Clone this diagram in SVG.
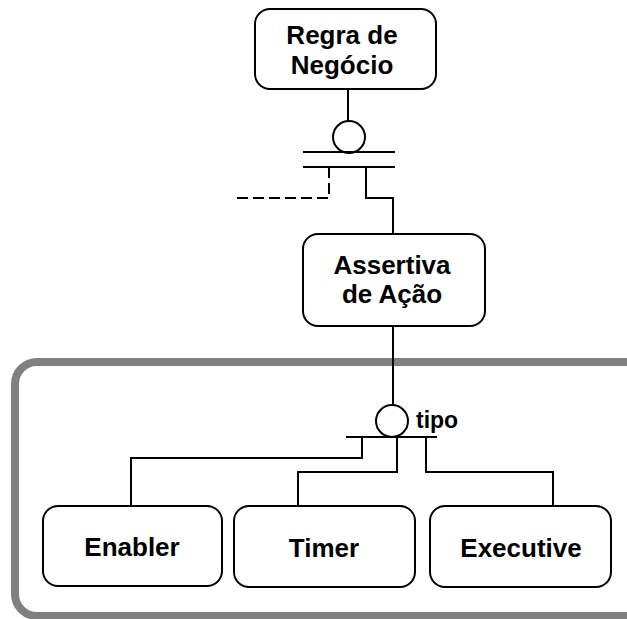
<svg xmlns="http://www.w3.org/2000/svg" width="627" height="619" viewBox="0 0 627 619">
  <style>
    .box { fill: #ffffff; stroke: #000000; stroke-width: 2; }
    .label { font-family: "Liberation Sans", Arial, sans-serif; font-weight: bold; font-size: 26px; fill: #000000; text-anchor: middle; }
    .small { font-family: "Liberation Sans", Arial, sans-serif; font-weight: bold; font-size: 23px; fill: #000000; }
    .line { fill: none; stroke: #000000; stroke-width: 2; }
    .dash { fill: none; stroke: #000000; stroke-width: 2; stroke-dasharray: 11 5; }
    .frame { fill: none; stroke: #808080; stroke-width: 8; }
  </style>
  <rect width="627" height="619" fill="#ffffff"/>

  <!-- grey grouping frame around the subtype cluster -->
  <rect class="frame" x="15" y="362" width="640" height="254" rx="22" ry="22"/>

  <g id="connectors">
    <!-- Regra de Negócio to relationship -->
    <line class="line" x1="348" y1="89" x2="348" y2="121"/>
    <circle class="line" cx="349" cy="137" r="16"/>
    <line class="line" x1="303" y1="152" x2="395" y2="152"/>
    <line class="line" x1="303" y1="167" x2="395" y2="167"/>
    <polyline class="dash" points="329,167 329,198 237,198"/>
    <polyline class="line" points="366,167 366,198 393,198 393,234"/>

    <!-- Assertiva de Ação to subtype discriminator -->
    <line class="line" x1="393" y1="326" x2="393" y2="405"/>
    <circle class="line" cx="392" cy="421" r="16"/>
    <line class="line" x1="346" y1="437" x2="437" y2="437"/>
    <polyline class="line" points="362,437 362,458 131,458 131,506"/>
    <polyline class="line" points="397,437 397,472 298,472 298,506"/>
    <polyline class="line" points="426,437 426,472 553,472 553,506"/>
    <text class="small" x="416" y="428">tipo</text>
  </g>

  <g id="regra-de-negocio">
    <rect class="box" x="255" y="9" width="181" height="80" rx="15" ry="15"/>
    <text class="label" x="342" y="44">Regra de</text>
    <text class="label" x="342" y="74">Negócio</text>
  </g>

  <g id="assertiva-de-acao">
    <rect class="box" x="303" y="234" width="182" height="92" rx="15" ry="15"/>
    <text class="label" x="392" y="274">Assertiva</text>
    <text class="label" x="392" y="303">de Ação</text>
  </g>

  <g id="enabler">
    <rect class="box" x="43" y="506" width="179" height="80" rx="15" ry="15"/>
    <text class="label" x="132" y="556">Enabler</text>
  </g>

  <g id="timer">
    <rect class="box" x="234" y="506" width="181" height="81" rx="15" ry="15"/>
    <text class="label" x="324" y="557">Timer</text>
  </g>

  <g id="executive">
    <rect class="box" x="430" y="506" width="181" height="81" rx="15" ry="15"/>
    <text class="label" x="521" y="557">Executive</text>
  </g>
</svg>
